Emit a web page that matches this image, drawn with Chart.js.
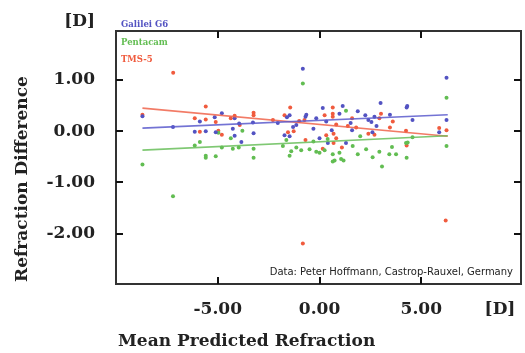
<!DOCTYPE html>
<html>
<head>
<meta charset="utf-8">
<script src="https://cdn.jsdelivr.net/npm/chart.js@4/dist/chart.umd.min.js"></script>
<style>
html,body{margin:0;padding:0;background:#fff;}
#wrap{position:relative;width:525px;height:353px;}
</style>
</head>
<body>
<div id="wrap"><canvas id="c" width="525" height="353"></canvas></div>
<script>
// ---- data ----
const seriesNames = ["Galilei G6", "Pentacam", "TMS-5"];
const galileiX = [-8.7,-7.2,-6.13,-5.88,-5.59,-5.15,-5.1,-4.8,-4.26,-4.17,-4.17,-3.95,-3.84,-3.27,-3.24,-2.05,-1.72,-1.6,-1.47,-1.47,-1.3,-1.14,-0.82,-0.69,-0.65,-0.3,-0.16,0.0,0.16,0.33,0.41,0.6,0.98,1.14,1.3,1.53,1.6,1.88,2.25,2.4,2.55,2.6,2.7,2.8,3.0,3.46,4.28,4.31,4.57,5.88,6.24,6.24];
const galileiY = [0.29,0.08,-0.01,0.19,0.0,0.27,-0.02,0.35,0.05,0.25,-0.09,0.15,-0.21,0.17,-0.04,0.16,-0.08,0.27,0.31,-0.10,0.08,0.12,1.22,0.28,0.32,0.05,0.25,-0.14,0.45,0.19,-0.23,0.02,0.34,0.49,-0.23,0.16,0.02,0.39,0.31,0.22,0.18,-0.02,0.28,0.10,0.55,0.32,0.46,0.49,0.22,-0.02,0.22,1.04];
const pentacamX = [-8.7,-7.2,-6.13,-5.88,-5.59,-5.59,-5.1,-4.97,-4.8,-4.36,-4.26,-3.97,-3.79,-3.24,-3.24,-1.8,-1.63,-1.47,-1.39,-1.14,-0.9,-0.82,-0.49,-0.3,-0.16,0.0,0.25,0.4,0.65,0.65,0.74,0.98,1.06,1.18,1.3,1.63,1.88,2.0,2.29,2.61,2.94,3.07,3.43,3.56,3.76,4.25,4.28,4.33,4.57,6.24,6.24];
const pentacamY = [-0.65,-1.27,-0.28,-0.21,-0.48,-0.52,-0.49,-0.03,-0.32,-0.14,-0.34,-0.32,0.01,-0.34,-0.52,-0.29,-0.17,-0.48,-0.39,-0.32,-0.37,0.93,-0.35,-0.20,-0.40,-0.42,-0.37,-0.15,-0.45,-0.59,-0.57,-0.42,-0.54,-0.57,0.40,-0.29,-0.45,-0.10,-0.35,-0.51,-0.40,-0.69,-0.45,-0.31,-0.45,-0.23,-0.52,-0.22,-0.12,0.65,-0.29];
const tmsX = [-8.7,-7.19,-6.13,-5.88,-5.59,-5.59,-5.1,-4.97,-4.8,-4.36,-4.17,-3.92,-3.24,-3.24,-2.29,-1.72,-1.55,-1.44,-1.27,-1.0,-0.82,-0.74,-0.69,0.16,0.25,0.33,0.65,0.65,0.65,0.69,0.69,0.82,0.82,1.1,1.39,1.6,1.8,2.4,2.7,2.94,3.02,3.46,3.6,4.25,4.28,5.88,6.2,6.24];
const tmsY = [0.32,1.14,0.25,-0.01,0.48,0.23,0.18,0.01,-0.07,0.25,0.30,0.12,0.36,0.31,0.22,0.31,-0.02,0.46,0.0,0.20,-2.19,0.22,-0.17,-0.34,0.31,-0.08,0.46,0.34,0.28,-0.05,-0.23,0.13,-0.14,-0.32,0.10,0.25,0.07,-0.05,-0.07,0.25,0.34,0.07,0.19,0.01,-0.28,0.06,-1.74,0.02];
// trend line end points
const trendX = [-8.7, 6.3];
const galileiTrend = [0.06, 0.32];
const pentacamTrend = [-0.37, -0.09];
const tmsTrend = [0.45, -0.10];
// axes
const xTicks = [-5, 0, 5];
const yTicks = [-2, -1, 0, 1];
const xRange = [-10, 9.9];
const yRange = [-2.98, 1.95];
const credit = "Data: Peter Hoffmann, Castrop-Rauxel, Germany";
const xTitle = "Mean Predicted Refraction";
const yTitle = "Refraction Difference";
const unitLabel = "[D]";

const colors = ["#5353c2", "#62bd52", "#f05b3e"];
const lineColors = ["rgba(90,90,205,0.85)", "rgba(105,190,90,0.85)", "rgba(240,100,75,0.85)"];

const pts = (xs, ys) => xs.map((x, i) => ({x: x, y: ys[i]}));

const serif = "'DejaVu Serif', serif";

const decor = {
  id: 'decor',
  afterDraw(chart) {
    const ctx = chart.ctx;
    const a = chart.chartArea;
    const xs = chart.scales.x, ys = chart.scales.y;
    const l = Math.round(a.left), r = Math.round(a.right), t = Math.round(a.top), b = Math.round(a.bottom);
    ctx.save();
    // frame
    ctx.fillStyle = '#333';
    ctx.fillRect(l - 1, t - 1, 2, b - t + 2);
    ctx.fillRect(r - 1, t - 1, 2, b - t + 2);
    ctx.fillRect(l - 1, t - 1, r - l + 2, 2);
    ctx.fillRect(l - 1, b - 1, r - l + 2, 2);
    // inward ticks on all sides
    ctx.fillStyle = '#111';
    const L = 7;
    xTicks.forEach(v => {
      const p = Math.round(xs.getPixelForValue(v));
      ctx.fillRect(p - 1, b - L, 2, L);
      ctx.fillRect(p - 1, t, 2, L);
    });
    yTicks.forEach(v => {
      const p = Math.round(ys.getPixelForValue(v));
      ctx.fillRect(l, p - 1, L, 2);
      ctx.fillRect(r - L, p - 1, L, 2);
    });
    // legend (text only)
    ctx.font = "bold 8.5px " + serif;
    ctx.textAlign = 'left';
    ctx.textBaseline = 'middle';
    [25, 42.5, 60].forEach((y, i) => {
      ctx.fillStyle = colors[i];
      ctx.fillText(seriesNames[i], l + 5, y);
    });
    // credit
    ctx.font = "10px 'DejaVu Sans', sans-serif";
    ctx.fillStyle = '#222';
    ctx.textAlign = 'right';
    ctx.fillText(credit, r - 8, b - 12);
    // unit labels
    ctx.font = "bold 17px " + serif;
    ctx.fillStyle = '#222';
    ctx.textAlign = 'right';
    ctx.fillText(unitLabel, 95, 22);
    ctx.textAlign = 'center';
    ctx.fillText(unitLabel, 500, 310);
    // axis titles
    ctx.textAlign = 'left';
    ctx.fillText(xTitle, 118, 342);
    ctx.translate(23, 179);
    ctx.rotate(-Math.PI / 2);
    ctx.textAlign = 'center';
    ctx.fillText(yTitle, 0, 0);
    ctx.restore();
  }
};

const mkScatter = (label, xs, ys, c) => ({
  type: 'scatter', label: label, data: pts(xs, ys),
  backgroundColor: c, borderColor: c, pointRadius: 2, borderWidth: 0, order: 2
});
const mkLine = (label, ys, c) => ({
  type: 'line', label: label, data: pts(trendX, ys),
  borderColor: c, borderWidth: 1.6, pointRadius: 0, fill: false, order: 1
});

new Chart(document.getElementById('c'), {
  data: {
    datasets: [
      mkScatter(seriesNames[0], galileiX, galileiY, colors[0]),
      mkScatter(seriesNames[1], pentacamX, pentacamY, colors[1]),
      mkScatter(seriesNames[2], tmsX, tmsY, colors[2]),
      mkLine(seriesNames[0] + ' fit', galileiTrend, lineColors[0]),
      mkLine(seriesNames[1] + ' fit', pentacamTrend, lineColors[1]),
      mkLine(seriesNames[2] + ' fit', tmsTrend, lineColors[2])
    ]
  },
  options: {
    responsive: false,
    animation: false,
    devicePixelRatio: 1,
    layout: { padding: { top: 13, right: 3, left: 0, bottom: 0 } },
    plugins: { legend: { display: false }, tooltip: { enabled: false } },
    scales: {
      x: {
        type: 'linear', min: xRange[0], max: xRange[1],
        grid: { display: false, drawTicks: false },
        border: { display: false },
        afterBuildTicks: s => { s.ticks = xTicks.map(v => ({value: v})); },
        afterFit: s => { s.height = 69; },
        ticks: { padding: 15, color: '#222', font: { family: serif, size: 17, weight: 'bold' },
                 callback: v => Number(v).toFixed(2), maxRotation: 0 }
      },
      y: {
        type: 'linear', min: yRange[0], max: yRange[1],
        grid: { display: false, drawTicks: false },
        border: { display: false },
        afterBuildTicks: s => { s.ticks = yTicks.map(v => ({value: v})); },
        afterFit: s => { s.width = 116; },
        ticks: { padding: 21, color: '#222', font: { family: serif, size: 17, weight: 'bold' },
                 callback: v => Number(v).toFixed(2) }
      }
    }
  },
  plugins: [decor]
});
</script>
</body>
</html>
